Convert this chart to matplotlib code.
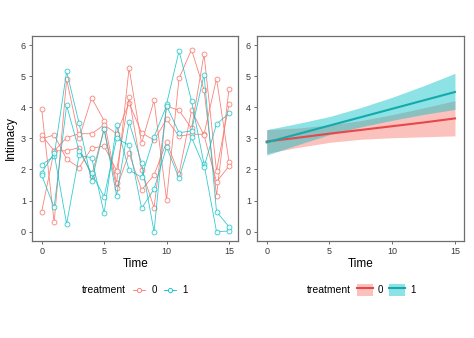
import matplotlib
matplotlib.use("Agg")
import matplotlib.pyplot as plt
from matplotlib.lines import Line2D
from matplotlib.patches import Patch

plt.rcParams["font.family"] = ["Liberation Sans", "DejaVu Sans"]

# ---- data ----
time = list(range(16))

# individual trajectories, treatment 0 (red) and 1 (teal)
red_lines = [
    [3.95, 0.30, 4.90, 3.00, 4.30, 3.57, 1.55, 5.26, 2.84, 4.22, 1.03, 4.93, 5.85, 4.56, 1.16, 4.59],
    [3.10, 2.60, 3.02, 3.15, 3.15, 3.43, 3.15, 4.14, 3.18, 2.94, 3.61, 3.07, 3.13, 3.13, 4.92, 2.24],
    [2.98, 3.11, 2.33, 2.06, 2.68, 2.75, 1.96, 4.32, 1.98, 0.77, 4.04, 3.90, 3.32, 5.71, 1.95, 4.10],
    [0.64, 2.60, 2.60, 2.70, 1.80, 3.30, 1.40, 2.52, 1.34, 1.82, 2.88, 1.85, 3.90, 3.10, 1.60, 2.11],
]
teal_lines = [
    [2.15, 2.43, 5.15, 3.48, 1.62, 3.30, 1.16, 3.52, 2.20, 0.00, 4.10, 5.81, 4.20, 2.17, 0.00, 0.02],
    [1.89, 2.52, 0.25, 2.45, 2.38, 0.59, 3.43, 1.98, 1.75, 3.05, 4.05, 3.18, 3.24, 5.05, 0.64, 0.16],
    [1.82, 0.78, 4.06, 2.60, 1.88, 1.12, 3.00, 2.78, 0.75, 1.37, 2.72, 1.72, 3.03, 2.08, 3.46, 3.80],
]

# model predictions with ribbons
pred_time = [0, 2.5, 5, 7.5, 10, 12.5, 15]
pred0 = [2.90, 3.02, 3.15, 3.27, 3.39, 3.51, 3.64]
pred0_lo = [2.52, 2.71, 2.87, 2.97, 3.02, 3.05, 3.08]
pred0_hi = [3.28, 3.33, 3.43, 3.57, 3.76, 3.98, 4.21]
pred1 = [2.87, 3.14, 3.41, 3.68, 3.95, 4.22, 4.49]
pred1_lo = [2.46, 2.80, 3.12, 3.37, 3.58, 3.77, 3.93]
pred1_hi = [3.28, 3.48, 3.70, 3.99, 4.32, 4.69, 5.09]

col0 = "#F8766D"
col1 = "#00BFC4"
line0 = "#E8474A"
line1 = "#16A9AB"

fig = plt.figure(figsize=(4.74, 3.38), dpi=100)
ax1 = fig.add_axes([0.0681, 0.287, 0.4348, 0.6074])
ax2 = fig.add_axes([0.5428, 0.287, 0.4369, 0.6074])

for vals in red_lines:
    ax1.plot(time, vals, color=col0, lw=0.6, alpha=0.9, marker="o", ms=3.5,
             mfc="white", mec=col0, mew=0.6)
for vals in teal_lines:
    ax1.plot(time, vals, color=col1, lw=0.6, alpha=0.8, marker="o", ms=3.5,
             mfc="white", mec=col1, mew=0.6)

ax2.fill_between(pred_time, pred0_lo, pred0_hi, color=col0, alpha=0.45, lw=0)
ax2.fill_between(pred_time, pred1_lo, pred1_hi, color=col1, alpha=0.45, lw=0)
ax2.plot(pred_time, pred0, color=line0, lw=1.5)
ax2.plot(pred_time, pred1, color=line1, lw=1.5)

for ax in (ax1, ax2):
    ax.set_xlim(-0.75, 15.75)
    ax.set_ylim(-0.3, 6.3)
    ax.set_xticks([0, 5, 10, 15])
    ax.set_yticks(range(7))
    ax.tick_params(length=2.5, width=0.6, color="#555555", labelsize=6.5,
                   labelcolor="#3a3a3a", pad=2)
    for s in ax.spines.values():
        s.set_color("#6e6e6e")
        s.set_linewidth(0.9)
    ax.set_xlabel("Time", fontsize=8.5, labelpad=1)
ax1.set_ylabel("Intimacy", fontsize=8.5, labelpad=3)

# legends
fig.text(0.173, 0.142, "treatment", fontsize=7.5, va="center", ha="left")
h0 = Line2D([], [], color=col0, lw=0.6, marker="o", ms=3.0, mfc="white", mec=col0, mew=0.6)
h1 = Line2D([], [], color=col1, lw=0.6, marker="o", ms=3.0, mfc="white", mec=col1, mew=0.6)
fig.legend([h0, h1], ["0", "1"], loc="center left", bbox_to_anchor=(0.281, 0.142),
           ncol=2, frameon=False, fontsize=7, handlelength=1.25, handletextpad=0.6,
           columnspacing=0.8, borderpad=0, borderaxespad=0)

fig.text(0.648, 0.142, "treatment", fontsize=7.5, va="center", ha="left")
k0 = (Patch(facecolor=col0, alpha=0.45, lw=0), Line2D([], [], color=line0, lw=1.5))
k1 = (Patch(facecolor=col1, alpha=0.45, lw=0), Line2D([], [], color=line1, lw=1.5))
fig.legend([k0, k1], ["0", "1"], loc="center left", bbox_to_anchor=(0.753, 0.142),
           ncol=2, frameon=False, fontsize=7, handlelength=1.65, handleheight=1.65,
           handletextpad=0.5, columnspacing=0.6, borderpad=0, borderaxespad=0)

fig.savefig("out.png", dpi=100)
